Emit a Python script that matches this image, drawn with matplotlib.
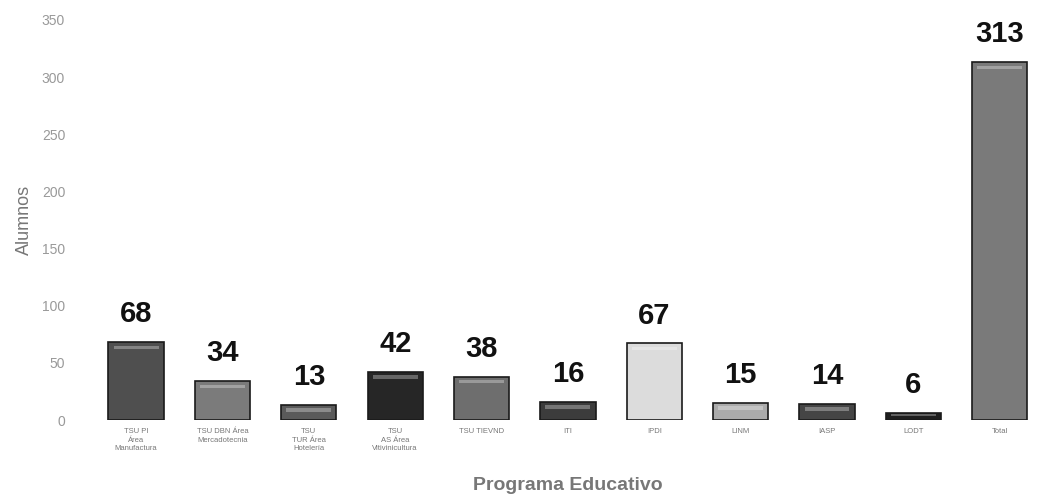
import matplotlib.pyplot as plt
import numpy as np

plt.rcParams['font.family'] = ['Liberation Sans', 'DejaVu Sans']

# datos
programas = ['TSU PI\nÁrea\nManufactura', 'TSU DBN Área\nMercadotecnia', 'TSU\nTUR Área\nHotelería',
             'TSU\nAS Área\nVitivinicultura', 'TSU TIEVND', 'ITI', 'IPDI', 'LINM', 'IASP', 'LODT', 'Total']
alumnos = [68, 34, 13, 42, 38, 16, 67, 15, 14, 6, 313]
colores = ['#4f4f4f', '#7b7b7b', '#5a5a5a', '#262626', '#6e6e6e', '#3c3c3c',
           '#dcdcdc', '#ababab', '#454545', '#1e1e1e', '#7a7a7a']

x = np.arange(len(alumnos))
valores = np.array(alumnos)

fig = plt.figure(figsize=(10.44, 5), dpi=100)
ax = fig.add_axes([0.089, 0.16, 0.91, 0.8])

# barras con borde oscuro
ax.bar(x, valores, width=0.64, color=colores, edgecolor='#1a1a1a', linewidth=1.2)
# brillo superior (efecto 3D)
ax.bar(x, np.minimum(3.0, valores * 0.3), bottom=valores - np.minimum(6, valores * 0.45),
       width=0.52, color='white', alpha=0.3, linewidth=0)

# etiquetas de valor
for xi, v in zip(x, valores):
    ax.annotate(str(v), (xi, v), xytext=(0, 10), textcoords='offset points',
                ha='center', va='bottom', fontsize=21, fontweight='bold', color='#111111')

ax.set_xlim(-0.5, len(alumnos) - 0.5)
ax.set_ylim(0, 350)
ax.set_yticks(np.arange(0, 351, 50))
ax.set_xticks(x)
ax.set_xticklabels(programas, fontsize=5.5, color='#777777', linespacing=1.3)
ax.tick_params(axis='y', labelsize=10, colors='#999999', length=0, pad=20)
ax.tick_params(axis='x', length=0, pad=6)

for s in ax.spines.values():
    s.set_visible(False)

ax.set_ylabel('Alumnos', fontsize=13, color='#777777', labelpad=6)
ax.set_xlabel('Programa Educativo', fontsize=14, color='#777777', fontweight='bold', labelpad=18)

fig.savefig('out.png', dpi=100)
